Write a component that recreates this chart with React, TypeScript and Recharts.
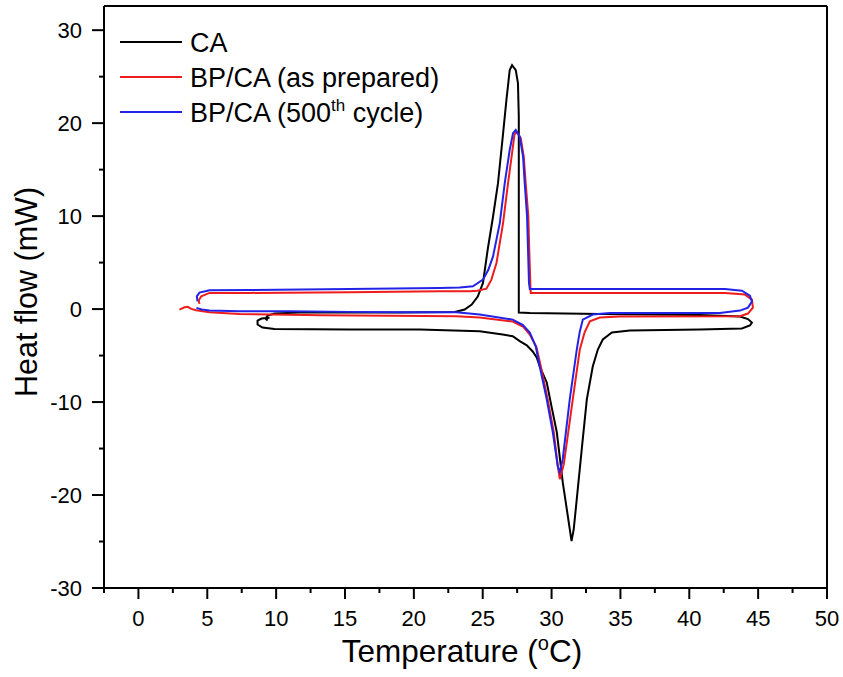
import React from 'react';
import { LineChart, Line, XAxis, YAxis, ReferenceLine } from 'recharts';

const FONT = '"Liberation Sans", Arial, Helvetica, sans-serif';

// CA (black)
const caX = [9.52, 8.94, 8.65, 8.65, 9.01, 9.88, 15.33, 20.42, 24.78, 26.45, 27.18, 27.69, 28.2, 28.63, 28.92, 29.14, 29.65, 30.01, 30.38, 30.81, 31.18, 31.45, 31.61, 31.83, 32.19, 32.56, 32.99, 33.36, 33.72, 34.38, 35.68, 40.77, 43.82, 44.40, 44.55, 44.26, 43.68, 40.77, 33.50, 28.42, 27.62, 27.62, 27.56, 27.40, 27.13, 26.96, 26.72, 26.48, 26.11, 25.75, 25.36, 25.02, 24.64, 24.20, 23.69, 22.97, 18.97, 11.70, 9.88, 9.38, 9.23, 9.38];
const caY = [-0.94, -1.02, -1.23, -1.66, -1.98, -2.15, -2.20, -2.20, -2.38, -2.74, -2.92, -3.45, -3.9, -4.56, -5.2, -6.17, -7.89, -10.57, -13.25, -18.62, -22.26, -24.95, -23.66, -20.44, -15.08, -9.71, -6.17, -4.35, -3.27, -2.52, -2.31, -2.20, -2.09, -1.77, -1.45, -1.07, -0.80, -0.64, -0.54, -0.43, -0.38, 20.69, 24.27, 25.70, 26.23, 25.70, 22.48, 18.91, 13.54, 9.96, 6.38, 2.81, 1.34, 0.48, -0.05, -0.32, -0.38, -0.38, -0.48, -0.70, -1.02, -1.23];

// BP/CA as prepared (red)
const prepX = [2.98, 3.34, 3.58, 3.83, 4.19, 5.16, 7.34, 13.37, 23.09, 24.78, 27.18, 27.95, 28.42, 28.9, 29.22, 29.72, 30.16, 30.45, 30.60, 30.89, 31.54, 32.05, 32.4, 32.78, 33.50, 34.96, 43.68, 44.26, 44.62, 44.55, 44.04, 42.59, 33.50, 28.49, 28.47, 28.38, 28.31, 28.12, 27.98, 27.76, 27.45, 27.30, 27.16, 26.84, 26.48, 26.00, 25.63, 25.27, 24.6, 24.06, 21.87, 15.33, 8.07, 5.16, 4.56, 4.38, 4.43];
const prepY = [-0.05, 0.19, 0.24, 0.02, -0.13, -0.34, -0.52, -0.67, -0.77, -0.91, -1.34, -1.9, -2.74, -4.1, -6.17, -9.71, -13.25, -16.90, -18.29, -16.68, -9.71, -4.35, -2.5, -1.31, -0.91, -0.80, -0.77, -0.48, 0.16, 1.02, 1.56, 1.74, 1.74, 1.74, 2.09, 6.38, 10.03, 13.57, 16.36, 18.40, 19.08, 18.72, 17.11, 13.54, 9.28, 4.96, 3.17, 2.2, 1.98, 1.93, 1.91, 1.82, 1.74, 1.74, 1.37, 0.94, 0.56];

// BP/CA 500th cycle (blue)
const cycX = [4.21, 4.6, 5.16, 7.34, 10.97, 15.33, 18.97, 23.09, 24.78, 27.18, 27.9, 28.42, 28.85, 29.14, 29.65, 30.09, 30.45, 30.60, 30.81, 31.32, 31.83, 32.05, 32.27, 32.99, 34.23, 42.22, 43.68, 44.26, 44.55, 44.40, 43.82, 42.59, 33.50, 28.42, 28.36, 28.29, 28.22, 28.05, 27.93, 27.69, 27.40, 27.20, 26.96, 26.60, 26.24, 25.75, 25.4, 25.02, 24.29, 23.33, 21.87, 15.33, 8.07, 5.16, 4.43, 4.24, 4.29];
const cycY = [0.13, -0.05, -0.15, -0.22, -0.24, -0.30, -0.33, -0.34, -0.59, -1.13, -1.7, -2.52, -4.0, -6.17, -9.71, -13.25, -16.90, -17.54, -16.15, -9.71, -4.35, -2.4, -1.13, -0.59, -0.41, -0.41, -0.16, 0.16, 0.80, 1.45, 1.98, 2.15, 2.15, 2.17, 2.81, 6.38, 9.96, 13.54, 16.39, 18.54, 19.26, 18.91, 17.11, 13.54, 9.25, 5.67, 4.2, 3.17, 2.45, 2.31, 2.27, 2.15, 2.06, 2.02, 1.77, 1.37, 0.84];

const xTicks = [-2.5, 0, 2.5, 5, 7.5, 10, 12.5, 15, 17.5, 20, 22.5, 25, 27.5, 30, 32.5, 35, 37.5, 40, 42.5, 45, 47.5, 50];
const yTicks = [-30, -25, -20, -15, -10, -5, 0, 5, 10, 15, 20, 25, 30];
const xDomain = [-2.5, 50];
const yDomain = [-30, 32.6];

const toPoints = (xs: number[], ys: number[]) => xs.map((x, i) => ({ x, y: ys[i] }));
const caData = toPoints(caX, caY);
const prepData = toPoints(prepX, prepY);
const cycData = toPoints(cycX, cycY);

const legendItems = [
  { color: '#000000', pre: 'CA', sup: '', post: '' },
  { color: '#ee1c1c', pre: 'BP/CA (as prepared)', sup: '', post: '' },
  { color: '#2323e6', pre: 'BP/CA (500', sup: 'th', post: ' cycle)' },
];

const XTick = (props: any) => {
  const { x, y, payload } = props;
  const v = payload.value;
  const major = v % 5 === 0;
  return (
    <g>
      <line x1={x} x2={x} y1={y} y2={y + (major ? 11 : 5)} stroke="#000" strokeWidth={2} />
      {major && (
        <text x={x} y={y + 38} textAnchor="middle" fontSize={22} fontFamily={FONT} fill="#000">
          {v}
        </text>
      )}
    </g>
  );
};

const YTick = (props: any) => {
  const { x, y, payload } = props;
  const v = payload.value;
  const major = v % 10 === 0;
  return (
    <g>
      <line x1={x - (major ? 12 : 5)} x2={x} y1={y} y2={y} stroke="#000" strokeWidth={2} />
      {major && (
        <text x={x - 22} y={y + 8} textAnchor="end" fontSize={22} fontFamily={FONT} fill="#000">
          {v}
        </text>
      )}
    </g>
  );
};

export default function App() {
  return (
    <div style={{ position: 'absolute', left: 0, top: 0, width: 843, height: 677, background: '#fff' }}>
      <LineChart width={843} height={677} margin={{ top: 6, right: 16, bottom: 0, left: 0 }}>
        <XAxis
          type="number"
          dataKey="x"
          domain={xDomain}
          ticks={xTicks}
          allowDataOverflow
          interval={0}
          height={89}
          tickSize={0}
          tickMargin={0}
          tickLine={false}
          axisLine={{ stroke: '#000', strokeWidth: 2 }}
          tick={<XTick />}
        />
        <YAxis
          type="number"
          dataKey="y"
          domain={yDomain}
          ticks={yTicks}
          allowDataOverflow
          interval={0}
          width={104}
          tickSize={0}
          tickMargin={0}
          tickLine={false}
          axisLine={{ stroke: '#000', strokeWidth: 2 }}
          tick={<YTick />}
        />
        <ReferenceLine y={yDomain[1]} stroke="#000" strokeWidth={2} ifOverflow="visible" />
        <ReferenceLine x={xDomain[1]} stroke="#000" strokeWidth={2} ifOverflow="visible" />
        <Line data={caData} dataKey="y" type="linear" stroke="#000000" strokeWidth={2} dot={false} isAnimationActive={false} />
        <Line data={prepData} dataKey="y" type="linear" stroke="#ee1c1c" strokeWidth={2} dot={false} isAnimationActive={false} />
        <Line data={cycData} dataKey="y" type="linear" stroke="#2323e6" strokeWidth={2} dot={false} isAnimationActive={false} />
        <g>
          {legendItems.map((it, i) => (
            <g key={i}>
              <line x1={120} x2={182} y1={42 + i * 35} y2={42 + i * 35} stroke={it.color} strokeWidth={2} />
              <text x={190} y={42 + i * 35 + 9.5} fontSize={27} fontFamily={FONT} fill="#000">
                {it.pre}
                {it.sup && (
                  <tspan dy={-11} fontSize={17}>
                    {it.sup}
                  </tspan>
                )}
                {it.post && <tspan dy={it.sup ? 11 : 0}>{it.post}</tspan>}
              </text>
            </g>
          ))}
        </g>
        <text x={462} y={662} textAnchor="middle" fontSize={31.5} fontFamily={FONT} fill="#000">
          Temperature (
          <tspan dy={-12} fontSize={20}>o</tspan>
          <tspan dy={12}>C)</tspan>
        </text>
        <text
          x={37}
          y={292}
          textAnchor="middle"
          fontSize={30.5}
          fontFamily={FONT}
          fill="#000"
          transform="rotate(-90, 37, 292)"
        >
          Heat flow (mW)
        </text>
      </LineChart>
    </div>
  );
}
